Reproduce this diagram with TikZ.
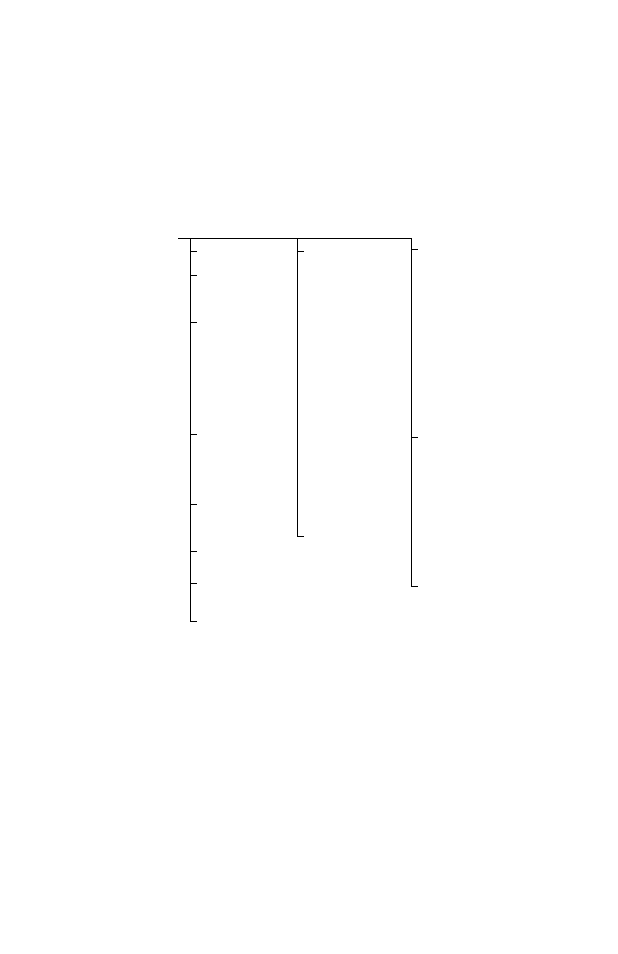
\documentclass[tikz,border=0pt]{standalone}
\usepackage{tikz}
\usetikzlibrary{positioning}

\tikzset{branch/.style={line width=1pt,line cap=rect}}

\begin{document}
\begin{tikzpicture}[x=1pt,y=-1pt]
        \useasboundingbox (0,0) rectangle (618,954);
        \coordinate (root) at (178,238);
        \coordinate (A) at (190.5,238);
        \coordinate (B) at (297,238);
        \coordinate (C) at (411,238);
        \coordinate (Aend) at (190.5,621.5);
        \coordinate (Bend) at (297,536.5);
        \coordinate (Cend) at (411,586);
        \draw[branch] (root)--(C);
        \draw[branch] (A)--(Aend)--++(6,0);
        \draw[branch] (B)--(Bend)--++(6,0);
        \draw[branch] (C)--(Cend)--++(6,0);
        \draw[branch] (190.5,251.5)--+(6,0);
        \draw[branch] (190.5,275.5)--+(6,0);
        \draw[branch] (190.5,322.5)--+(6,0);
        \draw[branch] (190.5,434.5)--+(6,0);
        \draw[branch] (190.5,504.5)--+(6,0);
        \draw[branch] (190.5,551.5)--+(6,0);
        \draw[branch] (190.5,583.5)--+(6,0);
        \draw[branch] (297,251.5)--+(6,0);
        \draw[branch] (411,249.5)--+(6,0);
        \draw[branch] (411,437.5)--+(6,0);
    \end{tikzpicture}
\end{document}
